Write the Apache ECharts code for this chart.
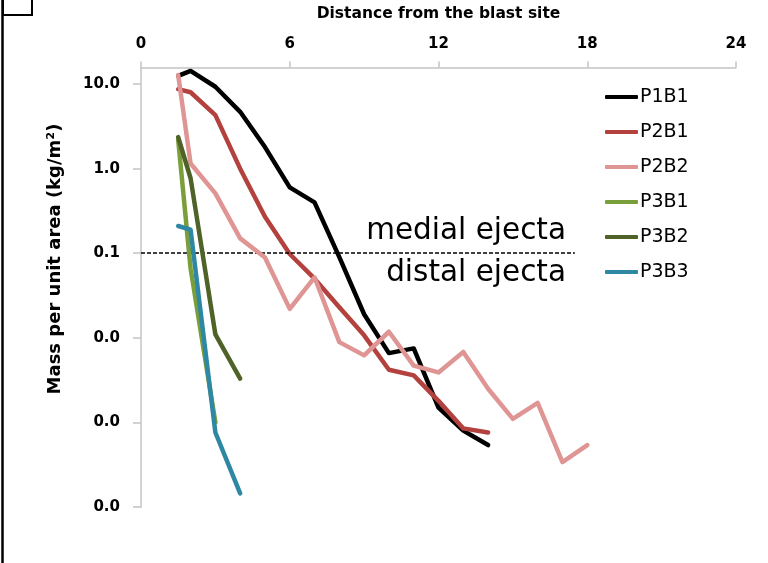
<!DOCTYPE html>
<html>
<head>
<meta charset="utf-8">
<script src="https://cdn.jsdelivr.net/npm/echarts@6/dist/echarts.min.js"></script>
<style>
  html, body { margin: 0; padding: 0; background: #ffffff; }
  #chart { width: 768px; height: 563px; }
</style>
</head>
<body>
<div id="chart"></div>
<script>
// Distances from the blast site for each profile
const distP1B1 = [1.5, 2, 3, 4, 5, 6, 7, 8, 9, 10, 11, 12, 13, 14];
const distP2B1 = [1.5, 2, 3, 4, 5, 6, 7, 8, 9, 10, 11, 12, 13, 14];
const distP2B2 = [1.5, 2, 3, 4, 5, 6, 7, 8, 9, 10, 11, 12, 13, 14, 15, 16, 17, 18];
const distP3B1 = [1.5, 2, 3];
const distP3B2 = [1.5, 2, 3, 4];
const distP3B3 = [1.5, 2, 3, 4];

// Mass per unit area (kg/m2)
const massP1B1 = [12.5, 14.3, 9.3, 4.7, 1.8, 0.6, 0.4, 0.09, 0.019, 0.0066, 0.0075, 0.0015, 0.0008, 0.00054];
const massP2B1 = [8.7, 8.0, 4.3, 1.0, 0.27, 0.098, 0.05, 0.023, 0.0107, 0.0042, 0.0036, 0.0018, 0.00085, 0.00076];
const massP2B2 = [12.8, 1.15, 0.51, 0.15, 0.089, 0.022, 0.052, 0.0089, 0.0062, 0.0118, 0.0047, 0.0039, 0.0068, 0.0025, 0.0011, 0.0017, 0.00034, 0.00054];
const massP3B1 = [2.2, 0.066, 0.001];
const massP3B2 = [2.36, 0.77, 0.011, 0.0033];
const massP3B3 = [0.21, 0.19, 0.00076, 0.000145];

const seriesNames = ['P1B1', 'P2B1', 'P2B2', 'P3B1', 'P3B2', 'P3B3'];
const seriesColors = ['#000000', '#B3423F', '#DE9593', '#7A9E3A', '#4F6228', '#2F88A3'];
const seriesDist = [distP1B1, distP2B1, distP2B2, distP3B1, distP3B2, distP3B3];
const seriesMass = [massP1B1, massP2B1, massP2B2, massP3B1, massP3B2, massP3B3];

// Axis ticks
const xTicks = [0, 6, 12, 18, 24];
const yTicks = [0.0001, 0.001, 0.01, 0.1, 1, 10];
const boundaryMass = 0.1;
const boundaryEnd = 17.5;

const chart = echarts.init(document.getElementById('chart'), null, { renderer: 'canvas' });

const series = seriesNames.map((name, i) => ({
  name: name,
  type: 'line',
  color: seriesColors[i],
  symbol: 'none',
  z: 3 + i,
  data: seriesDist[i].map((d, k) => [d, seriesMass[i][k]]),
  lineStyle: { width: 4.5, color: seriesColors[i], cap: 'round', join: 'round' }
}));

// medial / distal boundary
series[0].markLine = {
  silent: true,
  symbol: 'none',
  label: { show: false },
  lineStyle: { color: '#000', type: [4, 2], width: 1.6 },
  data: [[{ coord: [0, boundaryMass] }, { coord: [boundaryEnd, boundaryMass] }]]
};

const option = {
  backgroundColor: '#ffffff',
  animation: false,
  grid: { left: 141, right: 32, top: 67.5, bottom: 56 },
  xAxis: {
    type: 'value',
    position: 'top',
    min: xTicks[0],
    max: xTicks[xTicks.length - 1],
    interval: 6,
    name: 'Distance from the blast site',
    nameLocation: 'middle',
    nameGap: 46,
    nameTextStyle: { fontFamily: 'DejaVu Sans', fontWeight: 'bold', fontSize: 15.5, color: '#000' },
    axisLine: { lineStyle: { color: '#c4c4c4', width: 1.5 } },
    axisTick: { show: true, inside: false, length: 6, lineStyle: { color: '#c4c4c4', width: 1.5 } },
    axisLabel: { margin: 16, fontFamily: 'DejaVu Sans', fontWeight: 'bold', fontSize: 15, color: '#000' },
    splitLine: { show: false }
  },
  yAxis: {
    type: 'log',
    logBase: 10,
    min: 0.0001,
    max: 15.7,
    axisLine: { show: true, lineStyle: { color: '#c4c4c4', width: 1.5 } },
    axisTick: { show: true, length: 8, customValues: yTicks, lineStyle: { color: '#c4c4c4', width: 1.5 } },
    axisLabel: {
      margin: 21,
      customValues: yTicks,
      fontFamily: 'DejaVu Sans', fontWeight: 'bold', fontSize: 15, color: '#000',
      formatter: v => Number(v).toFixed(1)
    },
    splitLine: { show: false }
  },
  legend: {
    orient: 'vertical',
    left: 605,
    top: 87,
    padding: 0,
    icon: 'roundRect',
    itemWidth: 33,
    itemHeight: 4,
    itemGap: 15,
    textStyle: { fontFamily: 'DejaVu Sans', fontSize: 19, color: '#000', lineHeight: 20, padding: [0, 0, 0, -3] },
    data: seriesNames
  },
  graphic: [
    {
      type: 'text', x: 55, y: 259, rotation: Math.PI / 2,
      style: { text: 'Mass per unit area (kg/m²)', font: 'bold 18px "DejaVu Sans"', fill: '#000', align: 'center', verticalAlign: 'middle' }
    },
    {
      type: 'text', x: 566, y: 231,
      style: { text: 'medial ejecta', font: '29.5px "DejaVu Sans"', fill: '#000', align: 'right', verticalAlign: 'middle' }
    },
    {
      type: 'text', x: 566, y: 273,
      style: { text: 'distal ejecta', font: '29.5px "DejaVu Sans"', fill: '#000', align: 'right', verticalAlign: 'middle' }
    },
    {
      type: 'line', shape: { x1: 2.5, y1: 0, x2: 2.5, y2: 563 },
      style: { stroke: '#000', lineWidth: 2.5 }
    },
    {
      type: 'rect', shape: { x: 3, y: -6, width: 29, height: 21 },
      style: { fill: 'none', stroke: '#000', lineWidth: 2 }
    }
  ],
  series: series
};

chart.setOption(option);
</script>
</body>
</html>
